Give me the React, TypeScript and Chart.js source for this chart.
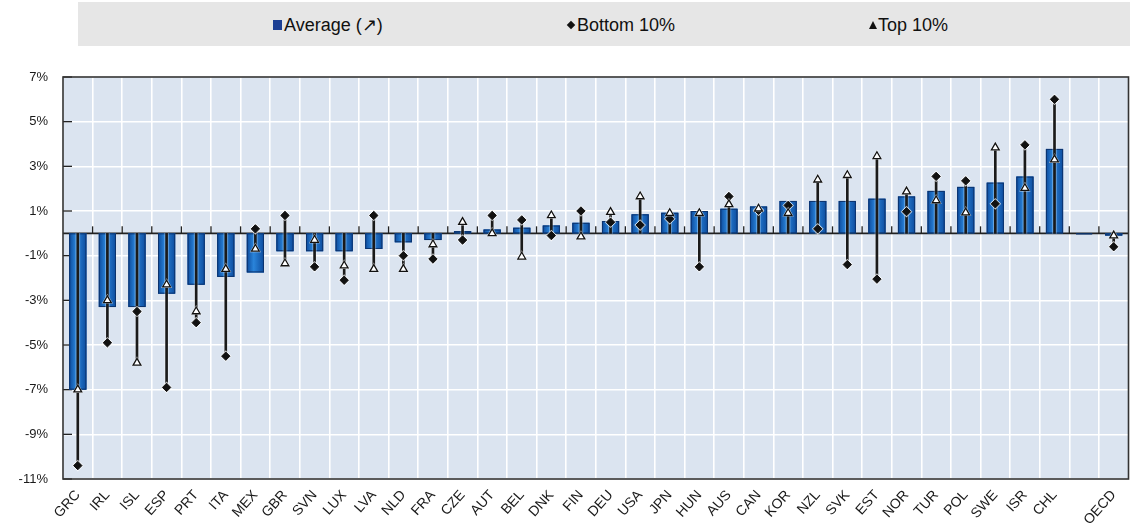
import React, { useEffect, useRef } from "react";
import { Chart, registerables } from "chart.js";
Chart.register(...registerables);

const categories = ["GRC","IRL","ISL","ESP","PRT","ITA","MEX","GBR","SVN","LUX","LVA","NLD","FRA","CZE","AUT","BEL","DNK","FIN","DEU","USA","JPN","HUN","AUS","CAN","KOR","NZL","SVK","EST","NOR","TUR","POL","SWE","ISR","CHL","","OECD"];
const average = [-7.0,-3.3,-3.3,-2.7,-2.3,-1.95,-1.75,-0.8,-0.8,-0.8,-0.7,-0.4,-0.3,0.1,0.17,0.25,0.35,0.47,0.55,0.85,0.92,1.0,1.1,1.2,1.45,1.45,1.45,1.55,1.65,1.9,2.08,2.27,2.54,3.78,null,-0.1];
const bottom10 = [-10.4,-4.9,-3.5,-6.9,-4.0,-5.5,0.2,0.8,-1.5,-2.1,0.8,-1.0,-1.15,-0.3,0.8,0.6,-0.1,1.0,0.5,0.37,0.65,-1.5,1.65,1.03,1.25,0.2,-1.4,-2.05,0.97,2.55,2.35,1.32,3.96,6.0,null,-0.6];
const top10 = [-7.0,-3.0,-5.8,-2.3,-3.5,-1.6,-0.7,-1.35,-0.3,-1.45,-1.6,-1.6,-0.5,0.5,0.0,-1.05,0.8,-0.15,0.95,1.65,0.9,0.9,1.3,1.1,0.9,2.4,2.6,3.45,1.87,1.47,0.93,3.84,2.02,3.3,null,-0.1];
const yTicks = [-11,-9,-7,-5,-3,-1,1,3,5,7];
const legendLabels = ["Average (\u2197)", "Bottom 10%", "Top 10%"];

const FONT = "'Liberation Sans', Arial, sans-serif";
const AVG_INDEX = 6;

export default function App() {
  const ref = useRef<HTMLCanvasElement | null>(null);
  useEffect(() => {
    const canvas = ref.current;
    if (!canvas) return;
    const whisker = categories.map((_, i) => {
      const b = bottom10[i], t = top10[i];
      if (b === null || t === null) return null;
      return [Math.min(0, b, t), Math.max(0, b, t)];
    });
    const framePlugin = {
      id: "frame",
      beforeDraw(chart: any) {
        const { ctx, chartArea: a } = chart;
        ctx.save();
        ctx.fillStyle = "#dbe4f0";
        ctx.fillRect(a.left, a.top, a.right - a.left, a.bottom - a.top);
        ctx.restore();
      },
      beforeDatasetsDraw(chart: any) {
        const { ctx, chartArea: a, scales } = chart;
        const xs = scales.x, ys = scales.y;
        ctx.save();
        ctx.strokeStyle = "#222";
        ctx.lineWidth = 1.6;
        const y0 = ys.getPixelForValue(0);
        ctx.beginPath();
        ctx.moveTo(a.left, y0);
        ctx.lineTo(a.right, y0);
        ctx.stroke();
        ctx.lineWidth = 1.3;
        for (let i = 0; i < categories.length - 1; i++) {
          const xb = (xs.getPixelForValue(i) + xs.getPixelForValue(i + 1)) / 2;
          ctx.beginPath();
          ctx.moveTo(xb, y0);
          ctx.lineTo(xb, y0 - 7);
          ctx.stroke();
        }
        for (const v of yTicks) {
          const yy = ys.getPixelForValue(v);
          ctx.beginPath();
          ctx.moveTo(a.left, yy);
          ctx.lineTo(a.left + 9, yy);
          ctx.stroke();
        }
        ctx.lineWidth = 1.6;
        ctx.strokeStyle = "#333";
        ctx.strokeRect(a.left, a.top, a.right - a.left, a.bottom - a.top);
        ctx.restore();
      },
      afterDatasetDraw(chart: any, args: any) {
        if (args.index !== AVG_INDEX) return;
        const { ctx } = chart;
        const meta = args.meta;
        ctx.save();
        for (const el of meta.data) {
          const { x, y, base, width } = el.getProps(["x", "y", "base", "width"], true);
          if (!Number.isFinite(x) || !Number.isFinite(y) || !Number.isFinite(base)) continue;
          const l = x - width / 2;
          const top = Math.min(y, base);
          const h = Math.abs(base - y);
          const g = ctx.createLinearGradient(l, 0, l + width, 0);
          g.addColorStop(0, "#0c4a9c");
          g.addColorStop(0.4, "#2a84da");
          g.addColorStop(1, "#0d4c9e");
          ctx.fillStyle = g;
          ctx.fillRect(l, top, width, h);
          ctx.strokeStyle = "#0b336e";
          ctx.lineWidth = 1;
          ctx.strokeRect(l + 0.5, top + 0.5, width - 1, Math.max(h - 1, 0));
        }
        ctx.restore();
      },
    };
    const halo = "rgba(255,255,255,0.7)";
    const chart = new Chart(canvas, {
      type: "bar",
      data: {
        labels: categories,
        datasets: [
          {
            type: "line",
            label: legendLabels[2],
            data: top10,
            showLine: false,
            pointStyle: "triangle",
            pointRadius: 4.5,
            pointBackgroundColor: "#ffffff",
            pointBorderColor: "#111",
            pointBorderWidth: 1.3,
            order: 0,
          } as any,
          {
            type: "line",
            label: "top halo",
            data: top10,
            showLine: false,
            pointStyle: "triangle",
            pointRadius: 5,
            pointBackgroundColor: halo,
            pointBorderColor: halo,
            pointBorderWidth: 1.5,
            order: 1,
          } as any,
          {
            type: "line",
            label: legendLabels[1],
            data: bottom10,
            showLine: false,
            pointStyle: "rectRot",
            pointRadius: 4.2,
            pointBackgroundColor: "#111",
            pointBorderColor: "#111",
            pointBorderWidth: 1,
            order: 2,
          } as any,
          {
            type: "line",
            label: "bottom halo",
            data: bottom10,
            showLine: false,
            pointStyle: "rectRot",
            pointRadius: 4.8,
            pointBackgroundColor: halo,
            pointBorderColor: halo,
            pointBorderWidth: 1.5,
            order: 3,
          } as any,
          {
            type: "bar",
            label: "range",
            data: whisker as any,
            backgroundColor: "#1a1a1a",
            barThickness: 2,
            grouped: false,
            order: 4,
          } as any,
          {
            type: "bar",
            label: "range halo",
            data: whisker as any,
            backgroundColor: "rgba(255,255,255,0.3)",
            barThickness: 4,
            grouped: false,
            order: 5,
          } as any,
          {
            type: "bar",
            label: legendLabels[0],
            data: average,
            grouped: false,
            categoryPercentage: 1,
            barPercentage: 0.58,
            backgroundColor: "#1a64be",
            borderWidth: 0,
            order: 6,
          } as any,
        ],
      },
      options: {
        animation: false,
        responsive: false,
        devicePixelRatio: 1,
        layout: { padding: { top: 77, left: 0, right: 0, bottom: 0 } },
        plugins: { legend: { display: false }, tooltip: { enabled: false } },
        scales: {
          x: {
            offset: true,
            grid: { color: "#ffffff", lineWidth: 1.6, drawTicks: false, offset: true },
            border: { display: false },
            ticks: {
              autoSkip: false,
              minRotation: 48,
              maxRotation: 48,
              padding: 8,
              color: "#1a1a1a",
              font: { family: FONT, size: 14 },
            },
            afterFit: (s: any) => { s.height = 52; },
          },
          y: {
            min: -11,
            max: 7,
            grid: { color: "#ffffff", lineWidth: 1.6, drawTicks: false },
            border: { display: false },
            ticks: {
              stepSize: 2,
              padding: 15,
              color: "#1a1a1a",
              font: { family: FONT, size: 13 },
              callback: (v: any) => `${v}%`,
            },
            afterFit: (s: any) => { s.width = 63; },
          },
        },
      },
      plugins: [framePlugin],
    });
    return () => chart.destroy();
  }, []);

  const itemStyle: React.CSSProperties = {
    position: "absolute",
    top: 14,
    fontFamily: FONT,
    fontSize: 18,
    color: "#111",
    whiteSpace: "nowrap",
    lineHeight: "22px",
  };
  return (
    <div style={{ position: "fixed", left: 0, top: 0, width: 1135, height: 531, background: "#fff" }}>
      <div style={{ position: "absolute", left: 78, top: 2, width: 1052, height: 44, background: "#e6e6e6" }} />
      <div style={{ position: "absolute", left: 273, top: 20, width: 9, height: 10, background: "#1c3f94" }} />
      <div style={{ ...itemStyle, left: 284 }}>{legendLabels[0]}</div>
      <div style={{ position: "absolute", left: 568, top: 22, width: 6, height: 6, background: "#111", transform: "rotate(45deg)" }} />
      <div style={{ ...itemStyle, left: 577 }}>{legendLabels[1]}</div>
      <div style={{ position: "absolute", left: 869, top: 21, width: 0, height: 0, borderLeft: "4px solid transparent", borderRight: "4px solid transparent", borderBottom: "8px solid #111" }} />
      <div style={{ ...itemStyle, left: 878 }}>{legendLabels[2]}</div>
      <canvas ref={ref} width={1135} height={531} style={{ position: "absolute", left: 0, top: 0 }} />
    </div>
  );
}
